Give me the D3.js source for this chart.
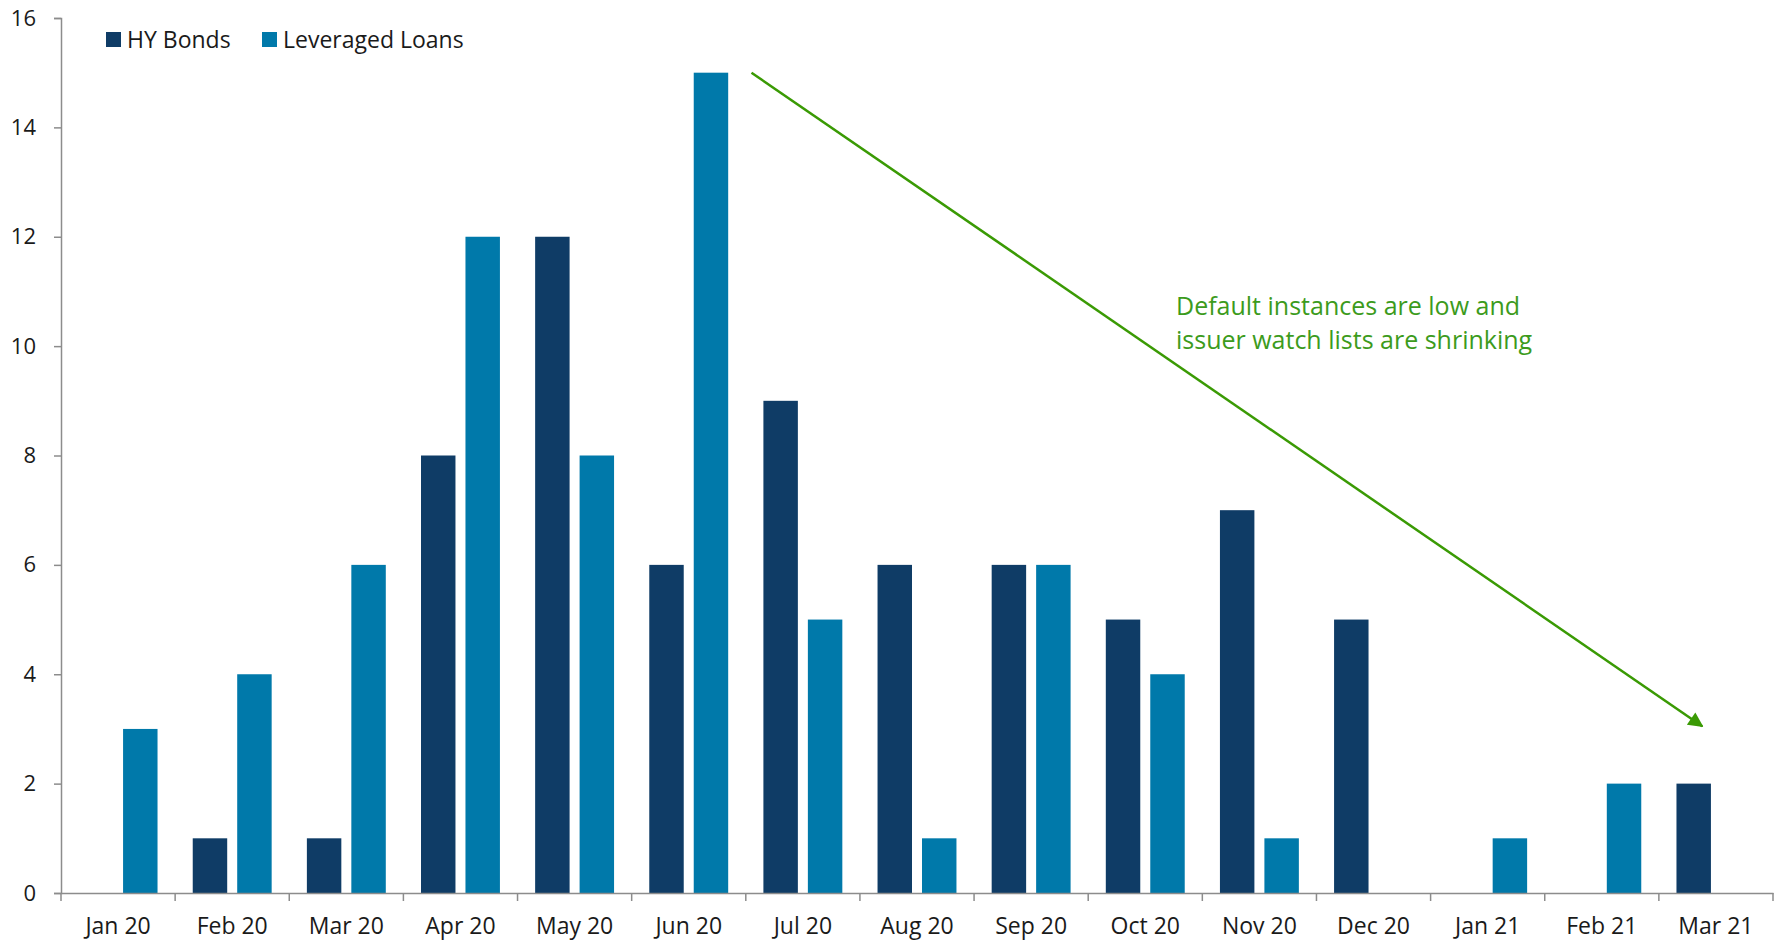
<!DOCTYPE html>
<html>
<head>
<meta charset="utf-8">
<script src="https://cdn.jsdelivr.net/npm/d3@7"></script>
<style>
  html, body { margin: 0; padding: 0; background: #fff; }
  svg { display: block; font-family: "Open Sans", sans-serif; }
</style>
</head>
<body>
<svg id="chart" width="1786" height="941"></svg>
<script>
// Monthly default counts
const months = ["Jan 20","Feb 20","Mar 20","Apr 20","May 20","Jun 20","Jul 20","Aug 20","Sep 20","Oct 20","Nov 20","Dec 20","Jan 21","Feb 21","Mar 21"];
const hyBonds = [0, 1, 1, 8, 12, 6, 9, 6, 6, 5, 7, 5, 0, 0, 2];
const leveragedLoans = [3, 4, 6, 12, 8, 15, 5, 1, 6, 4, 1, 0, 1, 2, 0];
const seriesNames = ["HY Bonds", "Leveraged Loans"];
const seriesColors = ["#0f3c66", "#0079aa"];
const yTicks = [0, 2, 4, 6, 8, 10, 12, 14, 16];
const noteLines = ["Default instances are low and", "issuer watch lists are shrinking"];
// Trend arrow endpoints: [position in month steps, value]
const trendStart = [6.05, 15];
const trendEnd = [14.38, 3.05];

const svg = d3.select("#chart");
const margin = { left: 61, right: 13, top: 18, bottom: 48 };
const W = 1786, H = 941;

const x0 = d3.scaleBand().domain(months).range([margin.left, W - margin.right]).padding(0);
const x1 = d3.scaleBand().domain(seriesNames).range([0, x0.bandwidth()])
  .paddingInner(0.225).paddingOuter(0.396);
const y = d3.scaleLinear().domain([0, 16]).range([H - margin.bottom, margin.top]);

const axisColor = "#8c8c8c";
const textColor = "#1a1a1a";

// Bars
const rows = months.map((m, i) => ({ month: m, values: [hyBonds[i], leveragedLoans[i]] }));
const groups = svg.append("g").selectAll("g").data(rows).join("g")
  .attr("transform", d => `translate(${x0(d.month)},0)`);
groups.selectAll("rect")
  .data(d => d.values.map((v, k) => ({ key: seriesNames[k], value: v, k })))
  .join("rect")
  .filter(d => d.value > 0)
  .attr("x", d => x1(d.key))
  .attr("width", x1.bandwidth())
  .attr("y", d => y(d.value))
  .attr("height", d => y(0) - y(d.value))
  .attr("fill", d => seriesColors[d.k]);

// Y axis
const yAxis = svg.append("g")
  .attr("transform", `translate(${margin.left},0)`)
  .call(d3.axisLeft(y).tickValues(yTicks).tickSize(7).tickPadding(18).tickFormat(d3.format("d")));
yAxis.select(".domain").attr("stroke", axisColor).attr("stroke-width", 1.5);
yAxis.selectAll(".tick line").attr("stroke", axisColor).attr("stroke-width", 1.5);
yAxis.selectAll(".tick text").attr("fill", textColor).attr("font-size", 22).attr("font-family", "Open Sans, sans-serif");

// X axis: labels centered on bands, ticks at band boundaries
const xAxis = svg.append("g")
  .attr("transform", `translate(0,${y(0)})`)
  .call(d3.axisBottom(x0).tickSize(0).tickPadding(25));
xAxis.select(".domain").attr("stroke", axisColor).attr("stroke-width", 1.5);
xAxis.selectAll(".tick text").attr("fill", textColor).attr("font-size", 23).attr("font-family", "Open Sans, sans-serif");
const boundaries = months.map(m => x0(m)).concat([x0(months[months.length - 1]) + x0.bandwidth()]);
xAxis.selectAll("line.bound").data(boundaries).join("line")
  .attr("class", "bound")
  .attr("x1", d => d).attr("x2", d => d)
  .attr("y1", 0).attr("y2", 8)
  .attr("stroke", axisColor).attr("stroke-width", 1.5);

// Legend
const legend = svg.append("g").attr("transform", "translate(106,32)");
const legendX = [0, 156];
seriesNames.forEach((name, k) => {
  const g = legend.append("g").attr("transform", `translate(${legendX[k]},0)`);
  g.append("rect").attr("width", 15).attr("height", 15).attr("fill", seriesColors[k]);
  g.append("text").attr("x", 21).attr("y", 15.5).attr("font-size", 23)
    .attr("fill", textColor).text(name);
});

// Trend arrow
const green = "#3a9a04";
const defs = svg.append("defs");
defs.append("marker").attr("id", "arrowhead")
  .attr("viewBox", "0 0 10 10").attr("refX", 9).attr("refY", 5)
  .attr("markerWidth", 7).attr("markerHeight", 6)
  .attr("markerUnits", "strokeWidth")
  .attr("orient", "auto")
  .append("path").attr("d", "M0,0 L10,5 L0,10 Z").attr("fill", green);

const px = v => x0(months[0]) + v[0] * x0.step();
svg.append("line")
  .attr("x1", px(trendStart)).attr("y1", y(trendStart[1]))
  .attr("x2", px(trendEnd)).attr("y2", y(trendEnd[1]))
  .attr("stroke", green).attr("stroke-width", 2.5)
  .attr("marker-end", "url(#arrowhead)");

// Annotation
const note = svg.append("text").attr("x", 1176).attr("y", 315)
  .attr("fill", "#3c9b1c").attr("font-size", 25);
note.selectAll("tspan").data(noteLines).join("tspan")
  .attr("x", 1176).attr("dy", (d, i) => i === 0 ? 0 : 34).text(d => d);
</script>
</body>
</html>
